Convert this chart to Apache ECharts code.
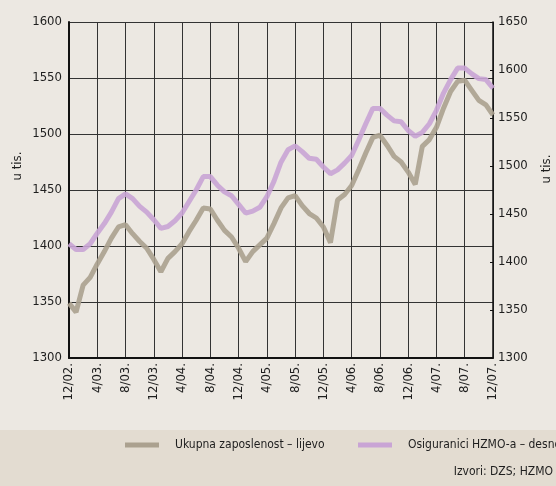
<!DOCTYPE html>
<html>
<head>
<meta charset="utf-8">
<script src="https://cdn.jsdelivr.net/npm/echarts@6/dist/echarts.min.js"></script>
<style>
  html, body { margin: 0; padding: 0; background: #ece8e2; }
  #chart { width: 556px; height: 486px; }
</style>
</head>
<body>
<div id="chart"></div>
<script>
const months = [
  '12/02.', '1/03.', '2/03.', '3/03.', '4/03.', '5/03.', '6/03.', '7/03.', '8/03.', '9/03.', '10/03.', '11/03.',
  '12/03.', '1/04.', '2/04.', '3/04.', '4/04.', '5/04.', '6/04.', '7/04.', '8/04.', '9/04.', '10/04.', '11/04.',
  '12/04.', '1/05.', '2/05.', '3/05.', '4/05.', '5/05.', '6/05.', '7/05.', '8/05.', '9/05.', '10/05.', '11/05.',
  '12/05.', '1/06.', '2/06.', '3/06.', '4/06.', '5/06.', '6/06.', '7/06.', '8/06.', '9/06.', '10/06.', '11/06.',
  '12/06.', '1/07.', '2/07.', '3/07.', '4/07.', '5/07.', '6/07.', '7/07.', '8/07.', '9/07.', '10/07.', '11/07.',
  '12/07.'
]

// Ukupna zaposlenost (lijeva os, u tis.)
const zaposlenost = [
  1349, 1341, 1365, 1372, 1384, 1395, 1407, 1417, 1419, 1411, 1404, 1398,
  1388, 1377, 1389, 1395, 1402, 1413, 1423, 1434, 1433, 1423, 1414, 1408,
  1398, 1386, 1395, 1401, 1407, 1420, 1434, 1443, 1445, 1436, 1429, 1425,
  1417, 1403, 1441, 1446, 1454, 1468, 1483, 1497, 1499, 1490, 1480, 1475,
  1466, 1455, 1489, 1495, 1506, 1523, 1538, 1547, 1548, 1539, 1530, 1526,
  1517
]

// Osiguranici HZMO-a (desna os, u tis.)
const osiguranici = [
  1419, 1413, 1413, 1419, 1430, 1440, 1452, 1466, 1471, 1466, 1458, 1452,
  1444, 1435, 1437, 1443, 1451, 1463, 1475, 1489, 1489, 1480, 1473, 1469,
  1460, 1451, 1453, 1457, 1468, 1484, 1504, 1517, 1521, 1515, 1508, 1507,
  1499, 1492, 1496, 1503, 1511, 1527, 1544, 1560, 1560, 1553, 1547, 1546,
  1537, 1531, 1535, 1544, 1558, 1576, 1590, 1602, 1602, 1596, 1591, 1590,
  1581
]

const seriesNames = ['Ukupna zaposlenost – lijevo', 'Osiguranici HZMO-a – desno']
const leftTicks = { min: 1300, max: 1600, step: 50 }
const rightTicks = { min: 1300, max: 1650, step: 50 }

const font = "'DejaVu Sans Condensed', 'Liberation Sans Narrow', sans-serif"
const ink = '#1e1e1e'

const chart = echarts.init(document.getElementById('chart'))

const legendBase = {
  top: 439,
  padding: 0,
  icon: 'rect',
  itemWidth: 34,
  itemHeight: 5,
  textStyle: { fontSize: 12, fontFamily: font, color: ink, padding: [0, 0, 0, 11] }
}

chart.setOption({
  backgroundColor: '#ece8e2',
  animation: false,
  textStyle: { fontFamily: font, color: ink },
  grid: { left: 69, right: 63, top: 22, bottom: 128 },
  graphic: [
    {
      type: 'rect',
      shape: { x: 0, y: 430, width: 556, height: 56 },
      style: { fill: '#e3dcd1' },
      z: -10
    },
    {
      type: 'text',
      x: 18, y: 166, rotation: Math.PI / 2,
      style: { text: 'u tis.', fontSize: 13, fontFamily: font, fill: ink, align: 'center', verticalAlign: 'middle' }
    },
    {
      type: 'text',
      x: 547, y: 169, rotation: Math.PI / 2,
      style: { text: 'u tis.', fontSize: 13, fontFamily: font, fill: ink, align: 'center', verticalAlign: 'middle' }
    },
    {
      type: 'text',
      right: 3, top: 466,
      style: { text: 'Izvori: DZS; HZMO', fontSize: 12, fontFamily: font, fill: ink }
    }
  ],
  legend: [
    Object.assign({}, legendBase, { left: 125, data: [seriesNames[0]] }),
    Object.assign({}, legendBase, { left: 358, data: [seriesNames[1]] })
  ],
  xAxis: {
    type: 'category',
    data: months,
    boundaryGap: false,
    axisLine: { show: true, lineStyle: { color: '#111', width: 2 } },
    axisTick: { show: false, interval: 3 },
    axisLabel: { interval: 3, rotate: 90, fontSize: 13, color: ink, margin: 5 },
    splitLine: { show: true, interval: 3, lineStyle: { color: '#333', width: 1 } }
  },
  yAxis: [
    {
      type: 'value',
      min: leftTicks.min,
      max: leftTicks.max,
      interval: leftTicks.step,
      axisLine: { show: true, lineStyle: { color: '#111', width: 2 } },
      axisTick: { show: false },
      axisLabel: { fontSize: 13, color: ink, margin: 7, formatter: (v) => String(v) },
      splitLine: { show: true, lineStyle: { color: '#333', width: 1 } }
    },
    {
      type: 'value',
      position: 'right',
      min: rightTicks.min,
      max: rightTicks.max,
      interval: rightTicks.step,
      axisLine: { show: true, lineStyle: { color: '#111', width: 1.5 } },
      axisTick: { show: true, inside: true, length: 3, lineStyle: { color: '#111' } },
      axisLabel: { fontSize: 13, color: ink, margin: 5, formatter: (v) => String(v) },
      splitLine: { show: false }
    }
  ],
  series: [
    {
      name: seriesNames[0],
      type: 'line',
      yAxisIndex: 0,
      data: zaposlenost,
      showSymbol: false,
      color: '#aba18f',
      lineStyle: { width: 5, color: '#aba18f', opacity: 0.9 }
    },
    {
      name: seriesNames[1],
      type: 'line',
      yAxisIndex: 1,
      data: osiguranici,
      showSymbol: false,
      color: '#c9a4d5',
      lineStyle: { width: 5, color: '#c9a4d5', opacity: 0.9 }
    }
  ]
})
</script>
</body>
</html>
